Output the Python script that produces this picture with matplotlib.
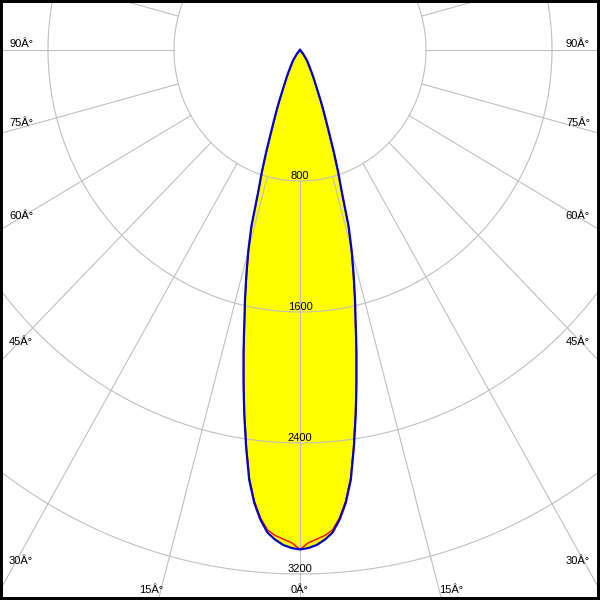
import numpy as np
import matplotlib.pyplot as plt

# Curva fotométrica (ângulo em graus, intensidade em cd)
angulos_c0 = list(range(0, 31)) + [32, 35, 40, 45]
intens_c0 = [3050, 3042, 3025, 2995, 2955, 2880, 2780, 2645, 2455, 2260,
             2066, 1880, 1700, 1550, 1405, 1267, 1120, 910, 785, 660,
             545, 460, 395, 335, 280, 240, 210, 185, 162, 142,
             125, 100, 74, 30, 0]

angulos_c90 = list(range(0, 31)) + [32, 35, 40, 45]
intens_c90 = [3050, 3010, 2990, 2970, 2940, 2870, 2770, 2635, 2445, 2250,
              2055, 1870, 1690, 1540, 1395, 1257, 1110, 900, 777, 652,
              538, 454, 390, 330, 276, 236, 207, 182, 159, 140,
              123, 98, 72, 29, 0]

# Anéis de intensidade e rótulos
aneis = [800, 1600, 2400, 3200]
rotulos_aneis = ['800', '1600', '2400', '3200']
rotulos_lado = ['90Â°', '75Â°', '60Â°', '45Â°', '30Â°']
rotulos_baixo = ['15Â°', '0Â°', '15Â°']

# escala em pixels por cd (a imagem original não é isotrópica)
SX = 126 / 800
SY = 131 / 800
CX, CY = 300, 50


def espelha(ang, val):
    ang = np.array(ang, dtype=float)
    val = np.array(val, dtype=float)
    a = np.concatenate([-ang[::-1], ang[1:]])
    v = np.concatenate([val[::-1], val[1:]])
    return a, v


def polar_xy(ang, val):
    t = np.radians(ang)
    return val * np.sin(t), -val * np.cos(t)


fig = plt.figure(figsize=(6, 6), dpi=100)
ax = fig.add_axes([0, 0, 1, 1])
ax.set_xlim(-CX / SX, (600 - CX) / SX)
ax.set_ylim(-(600 - CY) / SY, CY / SY)
ax.set_xticks([])
ax.set_yticks([])
for s in ax.spines.values():
    s.set_linewidth(4.3)
    s.set_color('black')

# curva C0-C180 (preenchida) e C90-C270
a0, v0 = espelha(angulos_c0, intens_c0)
x0, y0 = polar_xy(a0, v0)
a9, v9 = espelha(angulos_c90, intens_c90)
x9, y9 = polar_xy(a9, v9)

ax.fill(x0, y0, color='#ffff00', lw=0, zorder=1)

# grade polar
cinza = '#c0c0c0'
t = np.linspace(0, 2 * np.pi, 400)
for r in aneis:
    ax.plot(r * np.sin(t), r * np.cos(t), color=cinza, lw=0.8, zorder=2)
for ang in range(0, 360, 15):
    tt = np.radians(ang)
    ax.plot([800 * np.sin(tt), 8000 * np.sin(tt)],
            [-800 * np.cos(tt), -8000 * np.cos(tt)],
            color=cinza, lw=0.8, zorder=2)

ax.plot(x9, y9, color='#ff0000', lw=1.0, zorder=3)
ax.plot(x0, y0, color='#0000cc', lw=1.6, zorder=4)

fonte = dict(family='Liberation Sans', size=8, color='black', zorder=5)

# rótulos dos anéis
for r, txt in zip(aneis, rotulos_aneis):
    ax.text(0, -(r - 12), txt, ha='center', va='baseline', **fonte)


def px(x, y):
    return x / 600, 1 - y / 600


# rótulos dos ângulos nas laterais
linhas_lado = [47, 126, 219, 345, 564]
for txt, yb in zip(rotulos_lado, linhas_lado):
    fig.text(*px(9, yb), txt, ha='left', va='baseline', **fonte)
    fig.text(*px(590, yb), txt, ha='right', va='baseline', **fonte)

# rótulos dos ângulos embaixo
for txt, xc in zip(rotulos_baixo, [151, 300, 451]):
    fig.text(*px(xc, 593), txt, ha='center', va='baseline', **fonte)

fig.savefig('out.png', dpi=100)
